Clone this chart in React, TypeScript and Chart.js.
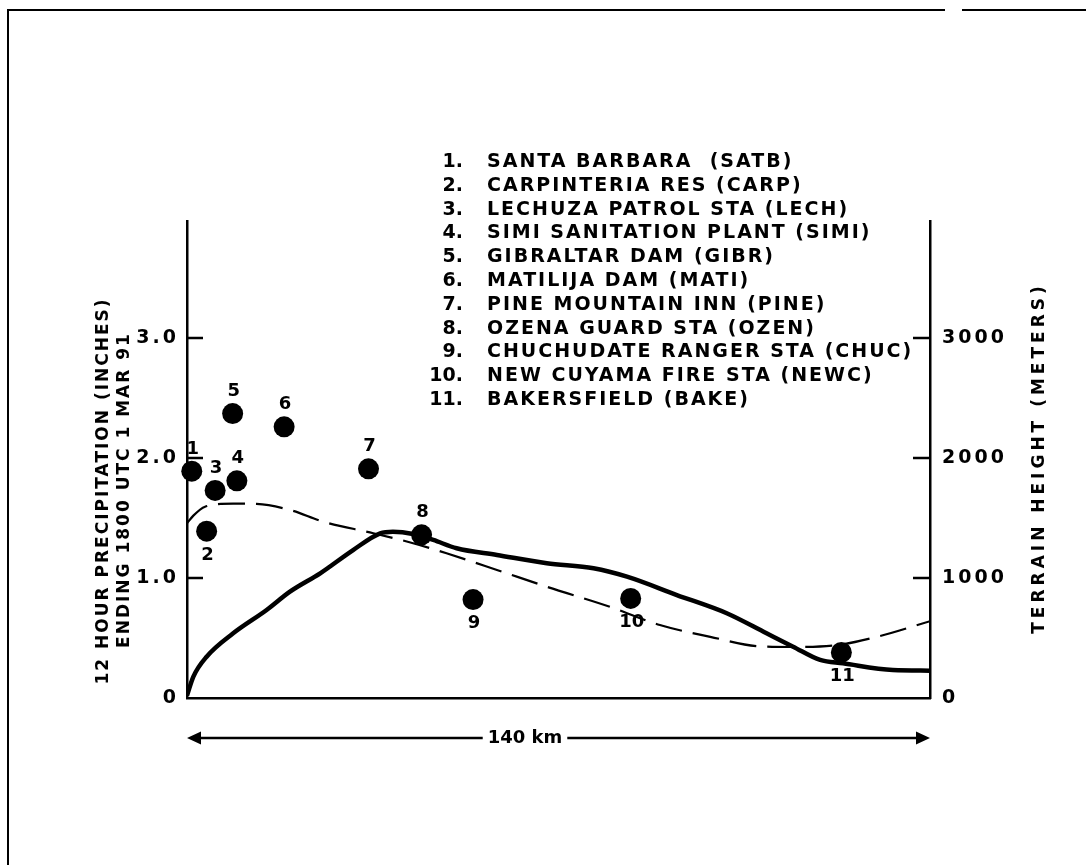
import React, { useEffect, useRef } from "react";
import { Chart, registerables } from "chart.js";

Chart.register(...registerables);

// ---------- data ----------
const stationIds = ["1", "2", "3", "4", "5", "6", "7", "8", "9", "10", "11"];
const stationNames = [
  "SANTA BARBARA  (SATB)",
  "CARPINTERIA RES (CARP)",
  "LECHUZA PATROL STA (LECH)",
  "SIMI SANITATION PLANT (SIMI)",
  "GIBRALTAR DAM (GIBR)",
  "MATILIJA DAM (MATI)",
  "PINE MOUNTAIN INN (PINE)",
  "OZENA GUARD STA (OZEN)",
  "CHUCHUDATE RANGER STA (CHUC)",
  "NEW CUYAMA FIRE STA (NEWC)",
  "BAKERSFIELD (BAKE)",
];
const stationKm = [0.9, 3.7, 5.3, 9.4, 8.6, 18.3, 34.2, 44.2, 53.9, 83.6, 123.3];
const precipInches = [1.89, 1.39, 1.73, 1.81, 2.37, 2.26, 1.91, 1.36, 0.82, 0.83, 0.38];
const labelSide = ["above", "below", "above", "above", "above", "above", "above", "above", "below", "below", "below"];

const terrainKm = [0, 1.2, 3.7, 8.7, 15.0, 19.4, 25.1, 31.3, 36.4, 38.8, 42.6, 46.4, 50.8, 58.4, 67.8, 76.6, 82.9, 92.3, 101.7, 109.2, 114.2, 119.3, 123.6, 133.0, 140];
const terrainMeters = [20, 178, 344, 539, 733, 886, 1039, 1233, 1372, 1386, 1367, 1317, 1248, 1192, 1123, 1081, 1011, 858, 706, 539, 428, 317, 289, 233, 228];

const dashedKm = [0, 1.2, 3.4, 8.7, 13.1, 19.4, 25.6, 35.1, 42.6, 48.9, 58.4, 67.8, 79.7, 89.1, 98.6, 108, 114.2, 122.4, 130, 140];
const dashedInches = [1.456, 1.52, 1.594, 1.62, 1.617, 1.567, 1.47, 1.373, 1.29, 1.206, 1.067, 0.927, 0.76, 0.608, 0.51, 0.43, 0.425, 0.44, 0.51, 0.64];

const leftTicks = [0, 1, 2, 3];
const leftTickLabels = ["0", "1.0", "2.0", "3.0"];
const rightTicks = [0, 1000, 2000, 3000];
const rightTickLabels = ["0", "1000", "2000", "3000"];

const leftTitleLines = ["12 HOUR PRECIPITATION (INCHES)", "ENDING 1800 UTC 1 MAR 91"];
const rightTitle = "TERRAIN HEIGHT (METERS)";
const distanceLabel = "140 km";
const distanceKm = 140;

// ---------- layout constants ----------
const W = 1086;
const H = 865;
const FONT = "'DejaVu Sans', sans-serif";

function drawText(ctx: CanvasRenderingContext2D, text: string, x: number, y: number, font: string, spacing: number, align: CanvasTextAlign) {
  ctx.font = font;
  (ctx as any).letterSpacing = spacing + "px";
  ctx.textAlign = align;
  ctx.textBaseline = "middle";
  ctx.fillText(text, x, y);
}

const decorPlugin = {
  id: "decor",
  beforeDraw(chart: any) {
    (chart.ctx as any).letterSpacing = "3px";
  },
  afterDraw(chart: any) {
    const ctx: CanvasRenderingContext2D = chart.ctx;
    const area = chart.chartArea;
    const xs = chart.scales.x;
    const yl = chart.scales.y;
    const yr = chart.scales.y2;
    ctx.save();
    ctx.fillStyle = "#000";
    ctx.strokeStyle = "#000";
    ctx.setLineDash([]);

    // outer frame (top & left)
    ctx.lineWidth = 2;
    ctx.beginPath();
    ctx.moveTo(8, H);
    ctx.lineTo(8, 10);
    ctx.lineTo(945, 10);
    ctx.moveTo(962, 10);
    ctx.lineTo(W, 10);
    ctx.stroke();

    // inward tick marks
    ctx.lineWidth = 2.5;
    ctx.beginPath();
    leftTicks.forEach((v) => {
      if (v === 0) return;
      const y = yl.getPixelForValue(v);
      ctx.moveTo(area.left, y);
      ctx.lineTo(area.left + 16, y);
    });
    rightTicks.forEach((v) => {
      if (v === 0) return;
      const y = yr.getPixelForValue(v);
      ctx.moveTo(area.right, y);
      ctx.lineTo(area.right - 17, y);
    });
    ctx.stroke();

    // station number labels
    const meta = chart.getDatasetMeta(0);
    meta.data.forEach((pt: any, i: number) => {
      const dy = labelSide[i] === "above" ? -22 : 24;
      drawText(ctx, stationIds[i], pt.x + 1, pt.y + dy, `bold 18px ${FONT}`, 0, "center");
    });

    // station legend
    stationNames.forEach((name, i) => {
      const y = 162 + 23.8 * i;
      drawText(ctx, stationIds[i] + ".", 463, y, `bold 19px ${FONT}`, 0, "right");
      drawText(ctx, name, 487, y, `bold 19px ${FONT}`, 2, "left");
    });

    // axis titles
    ctx.save();
    ctx.translate(104, 491);
    ctx.rotate(-Math.PI / 2);
    drawText(ctx, leftTitleLines[0], 0, 0, `bold 17px ${FONT}`, 2, "center");
    ctx.restore();
    ctx.save();
    ctx.translate(125, 490);
    ctx.rotate(-Math.PI / 2);
    drawText(ctx, leftTitleLines[1], 0, 0, `bold 17px ${FONT}`, 2, "center");
    ctx.restore();
    ctx.save();
    ctx.translate(1040, 458);
    ctx.rotate(-Math.PI / 2);
    drawText(ctx, rightTitle, 0, 0, `bold 17px ${FONT}`, 4, "center");
    ctx.restore();

    // 140 km distance arrow
    const ay = 738;
    const x0 = xs.getPixelForValue(0);
    const x1 = xs.getPixelForValue(distanceKm);
    const tx = 525;
    ctx.font = `bold 18px ${FONT}`;
    (ctx as any).letterSpacing = "0px";
    const tw = ctx.measureText(distanceLabel).width;
    drawText(ctx, distanceLabel, tx, ay, `bold 18px ${FONT}`, 0, "center");
    ctx.lineWidth = 2.5;
    ctx.beginPath();
    ctx.moveTo(x0 + 6, ay);
    ctx.lineTo(tx - tw / 2 - 5, ay);
    ctx.moveTo(tx + tw / 2 + 5, ay);
    ctx.lineTo(x1 - 6, ay);
    ctx.stroke();
    ctx.beginPath();
    ctx.moveTo(x0, ay);
    ctx.lineTo(x0 + 14, ay - 6.5);
    ctx.lineTo(x0 + 14, ay + 6.5);
    ctx.closePath();
    ctx.moveTo(x1, ay);
    ctx.lineTo(x1 - 14, ay - 6.5);
    ctx.lineTo(x1 - 14, ay + 6.5);
    ctx.closePath();
    ctx.fill();

    ctx.restore();
    (ctx as any).letterSpacing = "0px";
  },
};

export default function App() {
  const canvasRef = useRef<HTMLCanvasElement | null>(null);

  useEffect(() => {
    const canvas = canvasRef.current;
    if (!canvas) return;
    const stations = stationKm.map((x, i) => ({ x, y: precipInches[i] }));
    const terrain = terrainKm.map((x, i) => ({ x, y: terrainMeters[i] }));
    const dashed = dashedKm.map((x, i) => ({ x, y: dashedInches[i] }));

    const chart = new Chart(canvas, {
      type: "scatter",
      data: {
        datasets: [
          {
            type: "scatter",
            label: "Precipitation",
            data: stations,
            yAxisID: "y",
            pointRadius: 10.5,
            pointHoverRadius: 10.5,
            pointBackgroundColor: "#000",
            pointBorderColor: "#000",
            pointBorderWidth: 0,
            clip: false,
            order: 0,
          } as any,
          {
            type: "line",
            label: "Terrain height",
            data: terrain,
            yAxisID: "y2",
            borderColor: "#000",
            borderWidth: 4.5,
            pointRadius: 0,
            cubicInterpolationMode: "monotone",
            fill: false,
            order: 1,
          } as any,
          {
            type: "line",
            label: "Dashed",
            data: dashed,
            yAxisID: "y",
            borderColor: "#000",
            borderWidth: 2.2,
            borderDash: [27, 11],
            pointRadius: 0,
            cubicInterpolationMode: "monotone",
            fill: false,
            order: 2,
          } as any,
        ],
      },
      options: {
        responsive: false,
        animation: false,
        devicePixelRatio: 1,
        layout: { padding: { top: 221, left: 0, right: 0, bottom: 0 } },
        plugins: { legend: { display: false }, tooltip: { enabled: false } },
        scales: {
          x: {
            type: "linear",
            position: "bottom",
            min: 0,
            max: distanceKm,
            grid: { display: false, drawTicks: false },
            ticks: { display: false },
            border: { display: true, color: "#000", width: 2.5 },
            afterFit: (s: any) => {
              s.height = H - 698;
            },
          },
          y: {
            type: "linear",
            position: "left",
            min: 0,
            max: 3.975,
            grid: { display: false, drawTicks: false },
            border: { display: true, color: "#000", width: 2.5 },
            ticks: {
              color: "#000",
              padding: 8,
              font: { family: FONT, size: 19, weight: "bold" },
              callback: (v: any) => {
                const i = leftTicks.indexOf(Number(v));
                return i >= 0 ? leftTickLabels[i] : "";
              },
            },
            afterBuildTicks: (s: any) => {
              s.ticks = leftTicks.map((v) => ({ value: v }));
            },
            afterFit: (s: any) => {
              s.width = 187;
            },
          },
          y2: {
            type: "linear",
            position: "right",
            min: 0,
            max: 3975,
            grid: { display: false, drawTicks: false },
            border: { display: true, color: "#000", width: 2.5 },
            ticks: {
              color: "#000",
              padding: 12,
              font: { family: FONT, size: 19, weight: "bold" },
              callback: (v: any) => {
                const i = rightTicks.indexOf(Number(v));
                return i >= 0 ? rightTickLabels[i] : "";
              },
            },
            afterBuildTicks: (s: any) => {
              s.ticks = rightTicks.map((v) => ({ value: v }));
            },
            afterFit: (s: any) => {
              s.width = W - 930;
            },
          },
        },
      } as any,
      plugins: [decorPlugin],
    });
    return () => chart.destroy();
  }, []);

  return (
    <div style={{ position: "absolute", left: 0, top: 0, width: W, height: H, background: "#fff" }}>
      <canvas ref={canvasRef} width={W} height={H} style={{ display: "block", width: W, height: H }} />
    </div>
  );
}
